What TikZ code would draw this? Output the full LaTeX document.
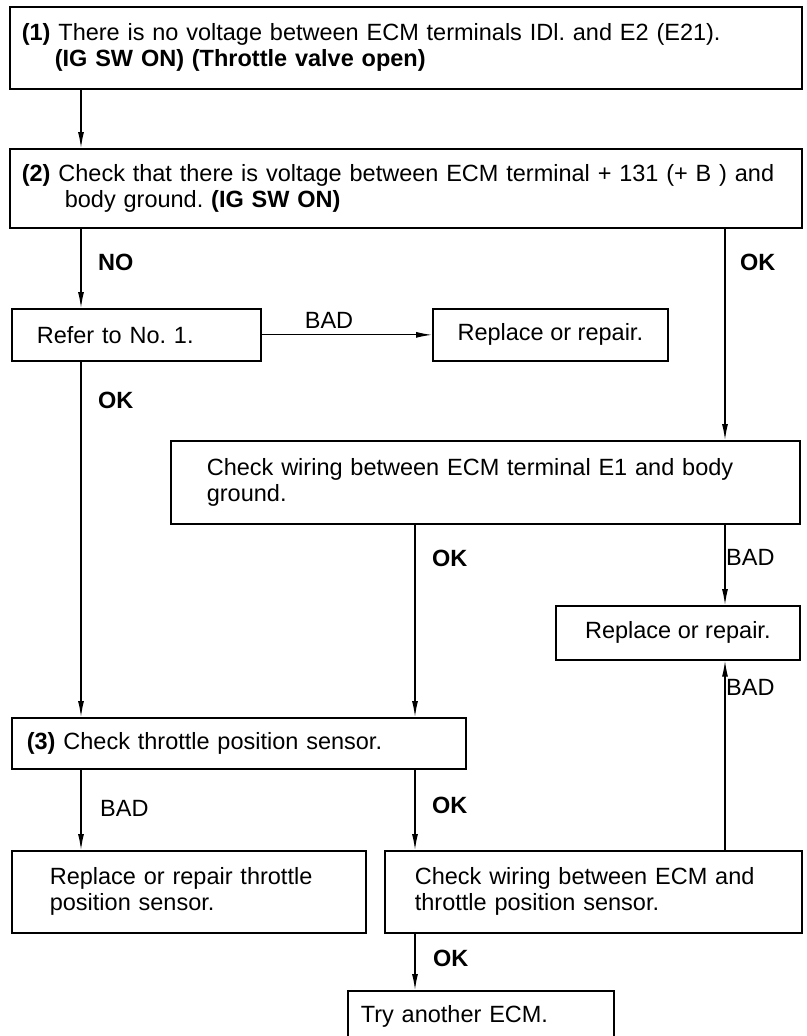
\documentclass[tikz,border=0pt]{standalone}
\usepackage{fontspec}
\setmainfont{Liberation Sans}
\usetikzlibrary{arrows.meta}
\frenchspacing
\begin{document}
\begin{tikzpicture}[x=1pt,y=-1pt,
  box/.style={draw, line width=1.7pt, anchor=north west, align=left, inner ysep=0pt, font=\fontsize{23.5}{26}\selectfont},
  cbox/.style={draw, line width=1.7pt, anchor=north west, align=center, inner ysep=0pt, inner xsep=0pt, font=\fontsize{23.5}{26}\selectfont},
  conn/.style={line width=1.2pt, -{Latex[length=16pt,width=6pt]}},
  lab/.style={inner sep=0pt, anchor=west, font=\fontsize{23.5}{26}\selectfont\bfseries},
  labr/.style={inner sep=0pt, anchor=west, font=\fontsize{23.5}{26}\selectfont}]
\useasboundingbox (0,0) rectangle (806,1036);
\coordinate (c1) at (81,0);
\coordinate (c2) at (415,0);
\coordinate (c3) at (725,0);

\node[box, minimum height=82pt, inner xsep=12pt, text width=768pt] (b1) at (9,6)
  {\textbf{(1)} There is no voltage between ECM terminals IDl. and E2 (E21).\\\hspace*{33pt}\textbf{(IG SW ON) (Throttle valve open)}};
\node[box, minimum height=79pt, inner xsep=12pt, text width=768pt] (b2) at (9,148)
  {\textbf{(2)} Check that there is voltage between ECM terminal + 131 (+ B ) and\\\hspace*{43pt}body ground. \textbf{(IG SW ON)}};
\node[box, minimum height=52pt, inner xsep=25pt, text width=199pt] (refer) at (11,308) {Refer to No. 1.};
\node[cbox, minimum height=52pt, minimum width=235pt] (rep1) at (432,308) {Replace or repair.};
\node[box, minimum height=83pt, inner xsep=36pt, text width=557pt] (e1) at (170,440)
  {Check wiring between ECM terminal E1 and body\\ground.};
\node[cbox, minimum height=54pt, minimum width=244pt] (rep2) at (555,605) {Replace or repair.};
\node[box, minimum height=51pt, inner xsep=15pt, text width=424pt] (b3) at (11,717)
  {\textbf{(3)} Check throttle position sensor.};
\node[box, minimum height=82pt, inner xsep=38pt, text width=278pt] (lb) at (11,850)
  {Replace or repair throttle\\position sensor.};
\node[box, minimum height=82pt, inner xsep=30pt, text width=357pt] (wir) at (384,850)
  {Check wiring between ECM and\\throttle position sensor.};
\node[box, minimum height=52pt, inner xsep=13pt, text width=240pt] (try) at (347,990) {Try another ECM.};

\draw[conn] (b1.south -| c1) -- (b2.north -| c1);
\draw[conn] (b2.south -| c1) -- (refer.north -| c1);
\draw[conn] (b2.south -| c3) -- (e1.north -| c3);
\draw[conn] (refer.east) -- (rep1.west);
\draw[conn] (refer.south -| c1) -- (b3.north -| c1);
\draw[conn] (e1.south -| c2) -- (b3.north -| c2);
\draw[conn] (e1.south -| c3) -- (rep2.north -| c3);
\draw[conn] (wir.north -| c3) -- (rep2.south -| c3);
\draw[conn] (b3.south -| c1) -- (lb.north -| c1);
\draw[conn] (b3.south -| c2) -- (wir.north -| c2);
\draw[conn] (wir.south -| c2) -- (try.north -| c2);

\node[lab] (lno) at (98,262) {NO};
\node[lab] (lok1) at (740,262) {OK};
\node[labr, anchor=center] (lbad1) at (329,320) {BAD};
\node[lab] (lok2) at (98,400) {OK};
\node[lab] (lok3) at (432,558) {OK};
\node[labr] (lbad2) at (726,557) {BAD};
\node[labr] (lbad3) at (726,687) {BAD};
\node[labr] (lbad4) at (100,808) {BAD};
\node[lab] (lok4) at (432,805) {OK};
\node[lab] (lok5) at (433,958) {OK};
\end{tikzpicture}
\end{document}
